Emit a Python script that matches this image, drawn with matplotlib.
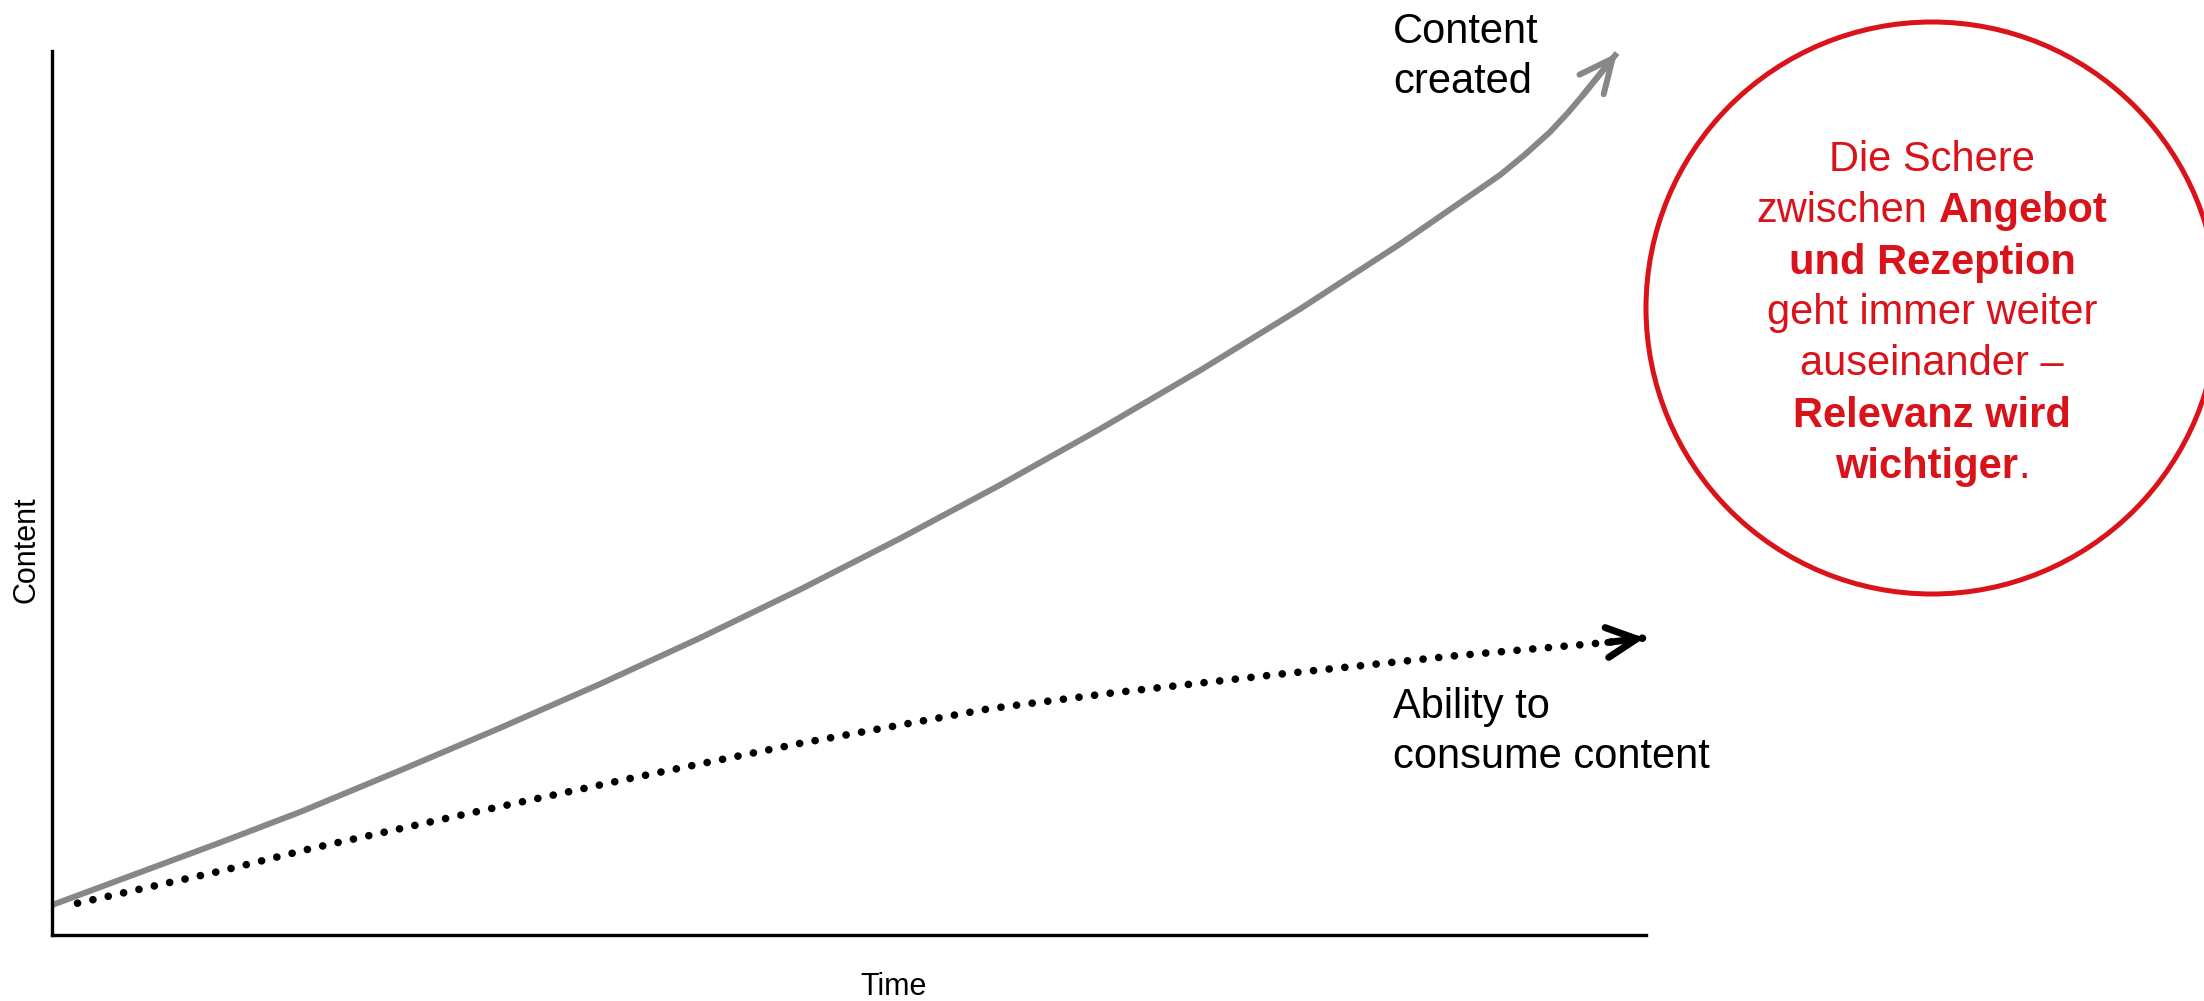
import matplotlib
matplotlib.use("Agg")
import matplotlib.pyplot as plt
from matplotlib.patches import Circle

plt.rcParams["font.family"] = ["Liberation Sans", "DejaVu Sans"]

# ---- data (arbitrary units, 0-100 on both axes) ----
time_created = [0.0, 10.48, 15.56, 21.83, 28.11, 34.38, 40.65, 46.93, 53.20,
                59.47, 65.75, 72.02, 78.29, 84.57, 90.84, 92.41, 93.98, 95.06,
                96.05, 98.18]
content_created = [3.39, 10.41, 13.91, 18.61, 23.42, 28.39, 33.60, 39.08, 44.85,
                   50.90, 57.24, 63.86, 70.81, 78.17, 85.97, 88.29, 90.84, 92.93,
                   95.02, 99.77]

time_consumed = [1.6, 10.5, 16.3, 26.0, 36.5, 46.7, 58.8, 66.6, 77.0, 88.1, 97.6, 99.9]
content_consumed = [3.6, 7.2, 9.8, 13.7, 17.8, 21.6, 25.6, 27.4, 29.5, 31.6, 33.1, 33.6]

label_created = ["Content", "created"]
label_consumed = ["Ability to", "consume content"]
x_label = "Time"
y_label = "Content"

callout_lines = [
    [("Die Schere", "normal")],
    [("zwischen", "normal"), (" ", "normal"), ("Angebot", "bold")],
    [("und Rezeption", "bold")],
    [("geht immer weiter", "normal")],
    [("auseinander \u2013", "normal")],
    [("Relevanz wird", "bold")],
    [("wichtiger", "bold"), (".", "normal")],
]

GREY = "#878787"
RED = "#DA121A"

W, H, DPI = 2204, 1001, 100
fig = plt.figure(figsize=(W / DPI, H / DPI), dpi=DPI)

def fx(px):
    return px / W

def fy(py):
    return (H - py) / H

ax = fig.add_axes([fx(52), fy(935), (1646 - 52) / W, (935 - 51) / H])
ax.set_xlim(0, 100)
ax.set_ylim(0, 100)
ax.set_xticks([])
ax.set_yticks([])
for side in ("top", "right"):
    ax.spines[side].set_visible(False)
for side in ("left", "bottom"):
    ax.spines[side].set_linewidth(2.4)
    ax.spines[side].set_color("black")
    ax.spines[side].set_capstyle("projecting")

# content created: solid grey curve with open arrowhead
ax.plot(time_created, content_created, color=GREY, lw=4.3,
        solid_capstyle="butt", solid_joinstyle="round", clip_on=False)
ax.annotate("", xy=(time_created[-1], content_created[-1]),
            xytext=(time_created[-2], content_created[-2]),
            arrowprops=dict(arrowstyle="->,head_length=0.6,head_width=0.28",
                            mutation_scale=40, lw=4.3, color=GREY,
                            shrinkA=0, shrinkB=0, capstyle="round",
                            joinstyle="miter"),
            annotation_clip=False)

# ability to consume: dotted black line with open arrowhead
ax.plot(time_consumed, content_consumed, color="black", lw=5.5,
        linestyle=(0, (0.01, 2.05)), dash_capstyle="round", clip_on=False)
ax.annotate("", xy=(time_consumed[-1], content_consumed[-1]),
            xytext=(time_consumed[-2], content_consumed[-2]),
            arrowprops=dict(arrowstyle="->,head_length=0.54,head_width=0.27",
                            mutation_scale=40, lw=5, color="black",
                            shrinkA=0, shrinkB=0, capstyle="round",
                            joinstyle="miter"),
            annotation_clip=False)

# series labels
for txt, base in zip(label_created, (43, 93)):
    fig.text(fx(1393), fy(base), txt, fontsize=30, va="baseline", ha="left")
for txt, base in zip(label_consumed, (718, 768)):
    fig.text(fx(1393), fy(base), txt, fontsize=30, va="baseline", ha="left")

# axis titles
fig.text(fx(894), fy(995), x_label, fontsize=22, ha="center", va="baseline")
fig.text(fx(26), fy(550), y_label, fontsize=22, ha="center", va="center",
         rotation=90)

# callout circle
cx, cy, r = 1932, 308, 286
fig.patches.append(Circle((cx / DPI, (H - cy) / DPI), r / DPI,
                          transform=fig.dpi_scale_trans, fill=False,
                          edgecolor=RED, lw=3.6, clip_on=False))

renderer = fig.canvas.get_renderer()
baselines = [171, 222, 274, 324, 375, 427, 478]
for segments, base in zip(callout_lines, baselines):
    items = []
    for s, w in segments:
        t = fig.text(0, fy(base), s, fontsize=30, fontweight=w, color=RED,
                     ha="left", va="baseline")
        if s == " ":
            a = fig.text(0, 0, "n n", fontsize=30, fontweight=w)
            b = fig.text(0, 0, "nn", fontsize=30, fontweight=w)
            width = (a.get_window_extent(renderer).width
                     - b.get_window_extent(renderer).width)
            a.remove()
            b.remove()
        else:
            width = t.get_window_extent(renderer).width
        items.append((t, width))
    total = sum(wd for _, wd in items)
    x = cx - total / 2
    for t, wd in items:
        t.set_x(fx(x))
        x += wd

fig.savefig("out.png", dpi=DPI, facecolor="white")
